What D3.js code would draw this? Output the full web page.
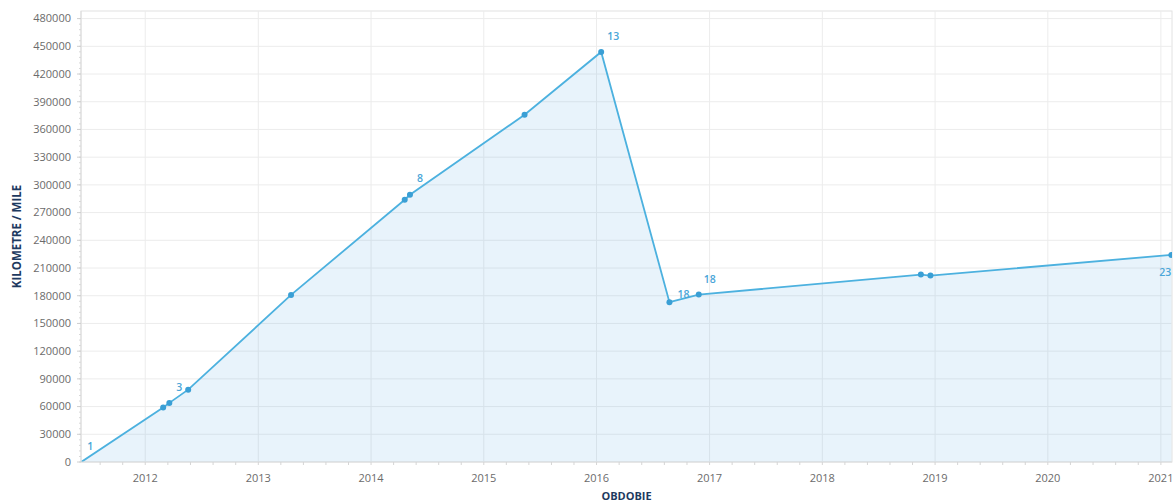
<!DOCTYPE html>
<html><head><meta charset="utf-8">
<script src="https://cdn.jsdelivr.net/npm/d3@7/dist/d3.min.js"></script>
<style>
html,body{margin:0;padding:0;background:#fff;}
svg{display:block;font-family:"Open Sans",Lato,sans-serif;}
</style></head>
<body><svg id="c" width="1174" height="504"></svg>
<script>
// ---- data ----
const dates = ["2011-06-08","2012-02-28","2012-03-19","2012-05-19","2013-04-17","2014-04-20","2014-05-07","2015-05-13","2016-01-16","2016-08-24","2016-11-27","2018-11-16","2018-12-17","2021-02-04"];
const values = [0,59000,64000,78300,180900,283900,289300,375900,443900,173000,181200,202900,201800,224200];
const pointLabels = ["1","","","3","","","8","","13","18","18","","","23"];
const yTicks = [0,30000,60000,90000,120000,150000,180000,210000,240000,270000,300000,330000,360000,390000,420000,450000,480000];
const xTickYears = [2012,2013,2014,2015,2016,2017,2018,2019,2020,2021];
const yTitle = "KILOMETRE / MILE";
const xTitle = "OBDOBIE";

// ---- layout ----
const W=1174,H=504;
const L=81,R=1172,T=11,B=462;
const svg=d3.select("#c");
const parse=d3.timeParse("%Y-%m-%d");
const data=dates.map((d,i)=>({date:parse(d),value:values[i],label:pointLabels[i]}));
const x=d3.scaleTime().domain([parse("2011-06-07"),parse("2021-02-06")]).range([L,R]);
const y=d3.scaleLinear().domain([0,480000]).range([B,18.6]);

const lineCol="#4cb1df", labCol="#4aa6d8", gridCol="#ececec", txtCol="#6b6b6b", navy="#1e3a5f";

const defs=svg.append("defs");
defs.append("clipPath").attr("id","clip").append("rect").attr("x",L).attr("y",T).attr("width",R-L).attr("height",B-T);

// frame
svg.append("rect").attr("x",L).attr("y",T).attr("width",R-L).attr("height",B-T).attr("fill","none").attr("stroke","#e2e2e2");

// grid
const g=svg.append("g").attr("clip-path","url(#clip)");
g.selectAll("line.hg").data(yTicks).join("line").attr("x1",L).attr("x2",R)
 .attr("y1",d=>y(d)).attr("y2",d=>y(d)).attr("stroke",gridCol);
const yearDates=xTickYears.map(yr=>new Date(yr,0,1));
g.selectAll("line.vg").data(yearDates).join("line").attr("y1",T).attr("y2",B)
 .attr("x1",d=>x(d)).attr("x2",d=>x(d)).attr("stroke",gridCol);

// area + line
const area=d3.area().x(d=>x(d.date)).y0(B).y1(d=>y(d.value));
g.append("path").datum(data).attr("d",area).attr("fill","#4aa6e0").attr("fill-opacity",0.13);
const line=d3.line().x(d=>x(d.date)).y(d=>y(d.value));
g.append("path").datum(data).attr("d",line).attr("fill","none").attr("stroke",lineCol).attr("stroke-width",1.8);
g.selectAll("circle").data(data.slice(1)).join("circle").attr("cx",d=>x(d.date)).attr("cy",d=>y(d.value))
 .attr("r",3).attr("fill","#3a9fd5");

// point labels (placement offsets by label order)
const offs={0:[9,-12],3:[-9,1],6:[10,-13],8:[12,-12],9:[14,-4],10:[11,-12],13:[-6,21]};
svg.append("g").selectAll("text").data(data.map((d,i)=>({d,i})).filter(o=>o.d.label))
 .join("text").attr("x",o=>x(o.d.date)+offs[o.i][0]).attr("y",o=>y(o.d.value)+offs[o.i][1])
 .attr("text-anchor","middle").attr("fill",labCol).attr("font-size",10.5).attr("font-weight",600)
 .text(o=>o.d.label);

// y axis
const ya=svg.append("g");
ya.append("line").attr("x1",L).attr("x2",L).attr("y1",T).attr("y2",B).attr("stroke","#dcdcdc");
const yMinor=d3.range(0,480001,6000);
ya.selectAll("line.ym").data(yMinor).join("line").attr("x1",L-2).attr("x2",L).attr("y1",d=>y(d)).attr("y2",d=>y(d)).attr("stroke","#d8d8d8");
ya.selectAll("line.yM").data(yTicks).join("line").attr("x1",L-4).attr("x2",L).attr("y1",d=>y(d)).attr("y2",d=>y(d)).attr("stroke","#cfcfcf");
ya.selectAll("text").data(yTicks).join("text").attr("x",L-10).attr("y",d=>y(d)).attr("dy","0.35em")
 .attr("text-anchor","end").attr("font-size",11).attr("fill",txtCol).text(d=>d);

// x axis
const xa=svg.append("g");
xa.append("line").attr("x1",L).attr("x2",R).attr("y1",B).attr("y2",B).attr("stroke","#dcdcdc");
const xMinor=[];
for(let yr=2011;yr<=2021;yr++){for(let k=0;k<5;k++){const t=new Date(yr,0,1).getTime()+k*(new Date(yr+1,0,1)-new Date(yr,0,1))/5;const dt=new Date(t);if(dt>=x.domain()[0]&&dt<=x.domain()[1])xMinor.push(dt);}}
xa.selectAll("line.xm").data(xMinor).join("line").attr("x1",d=>x(d)).attr("x2",d=>x(d)).attr("y1",B).attr("y2",B+3).attr("stroke","#d5d5d5");
xa.selectAll("text").data(yearDates).join("text").attr("x",d=>x(d)).attr("y",B+20)
 .attr("text-anchor","middle").attr("font-size",11).attr("fill",txtCol).text(d=>d.getFullYear());

// titles
svg.append("text").attr("transform",`translate(21,${(T+B)/2}) rotate(-90)`).attr("text-anchor","middle")
 .attr("font-size",11.5).attr("font-weight",700).attr("fill",navy).text(yTitle);
svg.append("text").attr("x",(L+R)/2).attr("y",H-4).attr("text-anchor","middle")
 .attr("font-size",11).attr("font-weight",700).attr("fill",navy).text(xTitle);
</script></body></html>
